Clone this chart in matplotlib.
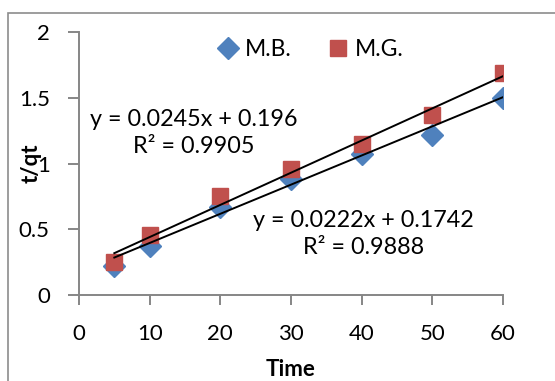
import numpy as np
import matplotlib.pyplot as plt
from matplotlib.patches import Rectangle

# dades llegides del gràfic
temps = [5, 10, 20, 30, 40, 50, 60]
mb = [0.22, 0.37, 0.67, 0.88, 1.07, 1.22, 1.50]
mg = [0.25, 0.46, 0.75, 0.96, 1.15, 1.37, 1.69]

# rectes de regressió (segons les etiquetes)
pend_mb, ord_mb = 0.0222, 0.1742
pend_mg, ord_mg = 0.0245, 0.196
eq_mb = 'y = 0.0222x + 0.1742\nR² = 0.9888'
eq_mg = 'y = 0.0245x + 0.196\nR² = 0.9905'

xticks = [0, 10, 20, 30, 40, 50, 60]
yticks = [0, 0.5, 1, 1.5, 2]

plt.rcParams['font.family'] = ['Lato', 'DejaVu Sans']

fig = plt.figure(figsize=(5.55, 3.81), dpi=100)
ax = fig.add_axes([0.1423, 0.2257, 0.764, 0.6895])

gris = '#868686'
ax.plot(temps, mb, 'D', color='#4F81BD', markersize=11.5, label='M.B.', zorder=3)
ax.plot(temps, mg, 's', color='#C0504D', markersize=11.5, label='M.G.', zorder=3)

x = np.array([temps[0], temps[-1]])
ax.plot(x, pend_mg * x + ord_mg, color='black', lw=1.4, zorder=4)
ax.plot(x, pend_mb * x + ord_mb, color='black', lw=1.4, zorder=4)

ax.text(16.2, 1.233, eq_mg, ha='center', va='center', fontsize=16.8, linespacing=1.4)
ax.text(40.2, 0.464, eq_mb, ha='center', va='center', fontsize=16.8, linespacing=1.4)

ax.set_xlim(0, 60)
ax.set_ylim(0, 2)
ax.set_xticks(xticks)
ax.set_yticks(yticks)
ax.set_yticklabels(['0', '0.5', '1', '1.5', '2'])
ax.tick_params(axis='both', labelsize=16, color=gris, width=1.4, direction='out')
ax.tick_params(axis='y', length=8, pad=13)
ax.tick_params(axis='x', length=7, pad=14)
for s in ['top', 'right']:
    ax.spines[s].set_visible(False)
for s in ['left', 'bottom']:
    ax.spines[s].set_color(gris)
    ax.spines[s].set_linewidth(1.4)

ax.set_xlabel('Time', fontsize=16, fontweight='bold')
ax.set_ylabel('t/qt', fontsize=16, fontweight='bold')
ax.xaxis.set_label_coords(0.5, -0.245)
ax.yaxis.set_label_coords(-0.087, 0.5)

ax.legend(loc='center', bbox_to_anchor=(0.548, 0.936), ncol=2, frameon=False,
          fontsize=16.5, numpoints=1, handlelength=0.8, handletextpad=0.35,
          columnspacing=1.6, borderpad=0)

# marc de l'àrea del gràfic
fig.patches.append(Rectangle((0.014, -0.05), 1.2, 1.0167, transform=fig.transFigure,
                             fill=False, edgecolor='#8c8c8c', lw=1.2))

plt.savefig('out.png')
